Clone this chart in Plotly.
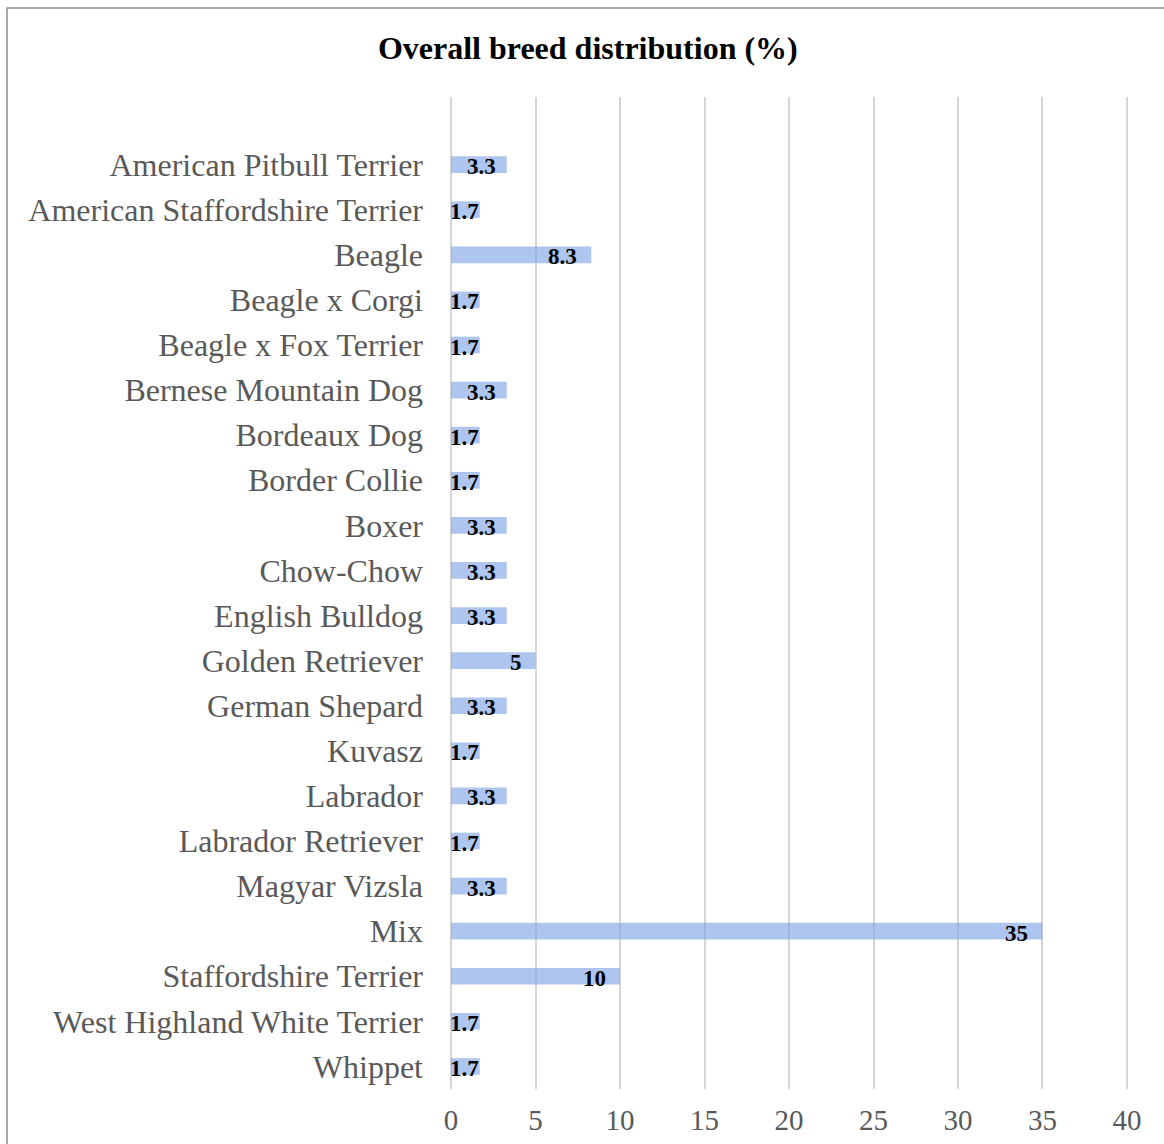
import plotly.graph_objects as go

breeds = [
    "American Pitbull Terrier", "American Staffordshire Terrier", "Beagle",
    "Beagle x Corgi", "Beagle x Fox Terrier", "Bernese Mountain Dog",
    "Bordeaux Dog", "Border Collie", "Boxer", "Chow-Chow", "English Bulldog",
    "Golden Retriever", "German Shepard", "Kuvasz", "Labrador",
    "Labrador Retriever", "Magyar Vizsla", "Mix", "Staffordshire Terrier",
    "West Highland White Terrier", "Whippet",
]
percent = [3.3, 1.7, 8.3, 1.7, 1.7, 3.3, 1.7, 1.7, 3.3, 3.3, 3.3,
           5, 3.3, 1.7, 3.3, 1.7, 3.3, 35, 10, 1.7, 1.7]
x_ticks = [0, 5, 10, 15, 20, 25, 30, 35, 40]

FONT = "Liberation Serif, Times New Roman, serif"

W, H = 1164, 1144
L, R, T, B = 450, 36, 97, 55
pw, ph = W - L - R, H - T - B
XMAX = 40.06

fig = go.Figure()
fig.add_trace(go.Bar(
    y=breeds, x=percent, orientation="h",
    marker=dict(color="rgba(120,160,228,0.6)", line=dict(width=0)),
    width=0.37,
    hoverinfo="skip",
))

# data labels, "inside end" style
px_per_unit = pw / (XMAX + 0.06)
for name, v in zip(breeds, percent):
    label = f"{v:g}"
    label_w = 15 * len(label.replace(".", "")) + 5 * label.count(".")
    bar_px = v * px_per_unit
    if bar_px - 10 >= label_w:
        xs = -9 if v < 5 else -12
        fig.add_annotation(x=v, y=name, text=f"<b>{label}</b>", showarrow=False,
                           xanchor="right", xshift=xs, yshift=-2,
                           font=dict(family=FONT, size=23, color="black"))
    else:
        fig.add_annotation(x=0, y=name, text=f"<b>{label}</b>", showarrow=False,
                           xanchor="left", xshift=-3, yshift=-2,
                           font=dict(family=FONT, size=23, color="black"))

def px_x(p):
    return (p - L) / pw

def px_y(p):
    return (H - B - p) / ph

fig.add_shape(type="rect", xref="paper", yref="paper",
              x0=px_x(7), x1=px_x(1172), y0=px_y(1152), y1=px_y(8),
              line=dict(color="#8c8c8c", width=1.5), fillcolor="rgba(0,0,0,0)",
              layer="above")

fig.update_layout(
    width=W, height=H,
    margin=dict(l=L, r=R, t=T, b=B),
    paper_bgcolor="white", plot_bgcolor="white",
    showlegend=False,
    title=dict(text="<b>Overall breed distribution (%)</b>",
               x=0.505, xanchor="center", y=1 - 48 / H, yanchor="middle",
               font=dict(family=FONT, size=32, color="black")),
    font=dict(family=FONT, color="#595959"),
    xaxis=dict(range=[-0.06, XMAX], tickvals=x_ticks, showgrid=True,
               gridcolor="#d6d6d6", gridwidth=1.7, zeroline=False,
               showline=False, ticks="", ticklabelstandoff=11,
               automargin=False,
               tickfont=dict(family=FONT, size=29, color="#595959")),
    yaxis=dict(categoryorder="array", categoryarray=breeds,
               range=[20.5, -1.5], showgrid=False, zeroline=False,
               showline=False, ticks="", ticklabelstandoff=26,
               automargin=False,
               tickfont=dict(family=FONT, size=32, color="#595959")),
)

fig.write_html("out.html")
